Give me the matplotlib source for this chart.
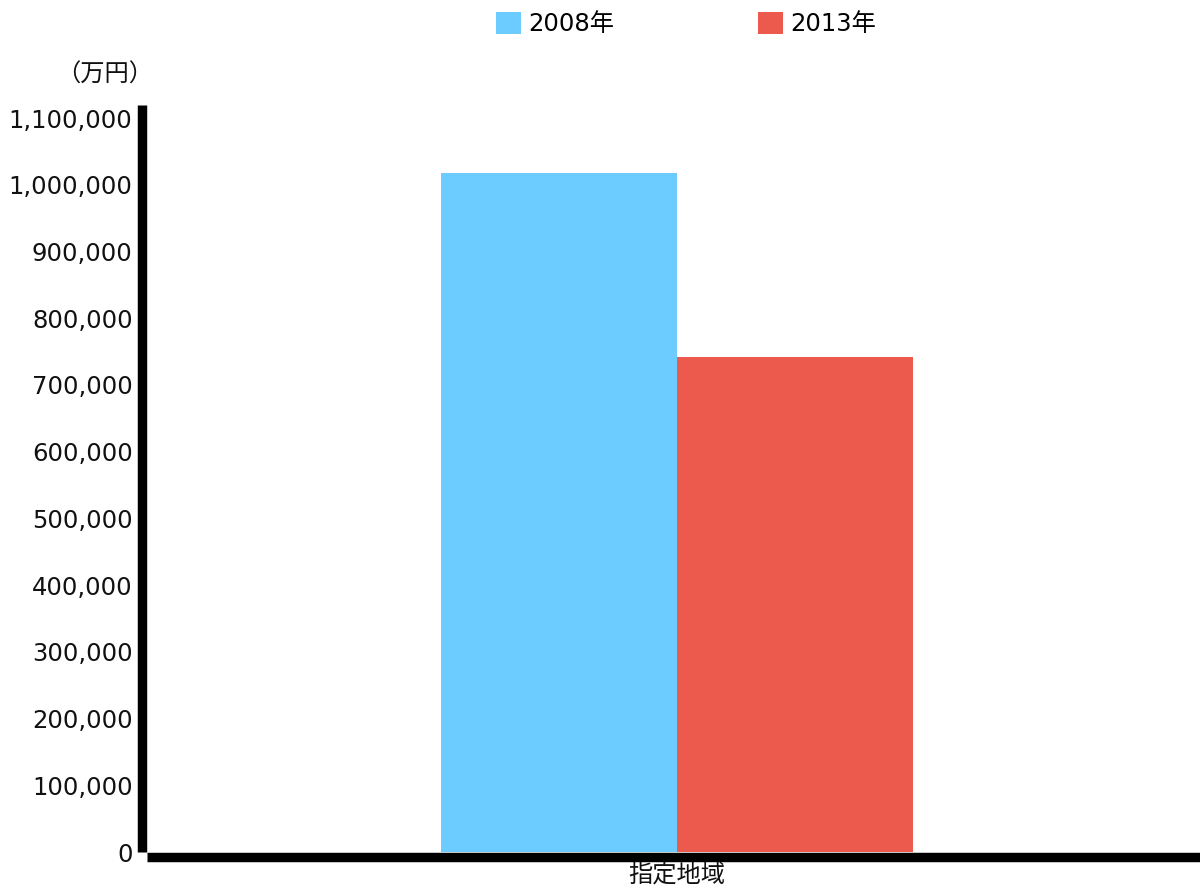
import numpy as np
import matplotlib
matplotlib.use('Agg')
from matplotlib import pyplot as plt
from matplotlib.ticker import FuncFormatter

plt.rcParams['font.family'] = ['DejaVu Sans', 'Noto Sans CJK JP']

categories = ['指定地域']
years = ['2008年', '2013年']
values_2008 = [1017600]
values_2013 = [741800]
colors = ['#6CCBFF', '#EC5A4D']
yticks = np.arange(0, 1100001, 100000)

fig = plt.figure(figsize=(12, 8.89), dpi=100)
ax = fig.add_axes([147 / 1200, 37 / 889, 1053 / 1200, 747 / 889])

x = np.arange(len(categories))
w = 1.0
ax.bar(x - w / 2, values_2008, width=w, color=colors[0], label=years[0])
ax.bar(x + w / 2, values_2013, width=w, color=colors[1], label=years[1])

ax.set_xlim(-2.246, 2.216)
ax.set_ylim(0, 1119500)
ax.set_xticks(x)
ax.set_xticklabels(categories)
ax.set_yticks(yticks)
ax.yaxis.set_major_formatter(FuncFormatter(lambda v, p: '{:,.0f}'.format(v)))
ax.tick_params(axis='both', length=0, labelsize=17.5, colors='#111111')
ax.tick_params(axis='y', pad=7)
ax.tick_params(axis='x', pad=5)

for s in ['top', 'right']:
    ax.spines[s].set_visible(False)
for s in ['left', 'bottom']:
    ax.spines[s].set_linewidth(6.8)
    ax.spines[s].set_color('black')
    ax.spines[s].set_capstyle('butt')
    ax.spines[s].set_position(('outward', 3.4))

fig.text(105 / 1200, 1 - 75 / 889, '（万円）', fontsize=17.5, ha='center', va='center', color='#111111')

fig.legend(loc='center', bbox_to_anchor=(686 / 1200, 1 - 24 / 889), ncol=2,
           frameon=False, fontsize=17.5, handlelength=1.04, handleheight=1.04,
           handletextpad=0.3, columnspacing=5.9, borderpad=0)

fig.savefig('out.png', dpi=100)
